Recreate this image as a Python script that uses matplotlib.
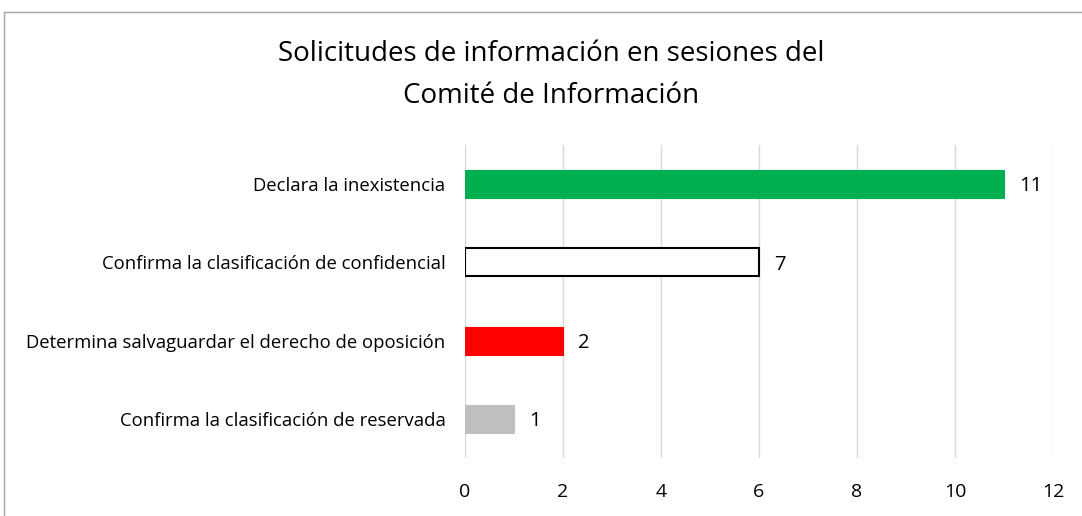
import matplotlib
matplotlib.use("Agg")
import matplotlib.pyplot as plt
from matplotlib.lines import Line2D

categories = ["Confirma la clasificación de reservada",
              "Determina salvaguardar el derecho de oposición",
              "Confirma la clasificación de confidencial",
              "Declara la inexistencia"]
values = [1, 2, 6, 11]
value_labels = ["1", "2", "7", "11"]
face_colors = ["#BFBFBF", "#FF0000", "#FFFFFF", "#00B050"]
edge_colors = ["#BFBFBF", "#FF0000", "#000000", "#00B050"]
x_ticks = [0, 2, 4, 6, 8, 10, 12]
title = "Solicitudes de información en sesiones del\nComité de Información"

plt.rcParams['font.family'] = ['Open Sans', 'DejaVu Sans']

fig = plt.figure(figsize=(10.82, 5.16), dpi=100)
ax = fig.add_axes([465/1082, 1 - 458/516, 588/1082, 313/516])

y = list(range(len(categories)))
for i in y:
    ax.barh(i, values[i], height=0.36, color=face_colors[i],
            edgecolor=edge_colors[i], linewidth=1.5 if face_colors[i] == "#FFFFFF" else 0.8,
            zorder=3)
    ax.text(values[i] + 0.3, i - 0.03, value_labels[i], va='center', ha='left',
            fontsize=14.5, color='#000000')

ax.set_xlim(0, 12)
ax.set_ylim(-0.5, 3.5)
ax.set_xticks(x_ticks)
ax.set_xticklabels([str(t) for t in x_ticks], fontsize=14)
ax.set_yticks(y)
ax.set_yticklabels(categories, fontsize=13.3)
ax.tick_params(axis='both', length=0)
ax.tick_params(axis='x', pad=18)
ax.tick_params(axis='y', pad=14)
ax.grid(axis='x', color='#D9D9D9', linewidth=1, zorder=0)
for s in ax.spines.values():
    s.set_visible(False)

fig.text(551/1082, 1 - 75/516, title, ha='center', va='center',
         fontsize=20, linespacing=1.7)

# outer frame lines
fig.add_artist(Line2D([4/1082, 1.0], [1 - 12/516, 1 - 12/516],
                      transform=fig.transFigure, color='#A6A6A6', linewidth=1))
fig.add_artist(Line2D([4/1082, 4/1082], [0, 1 - 12/516],
                      transform=fig.transFigure, color='#A6A6A6', linewidth=1))

fig.savefig("out.png", dpi=100)
